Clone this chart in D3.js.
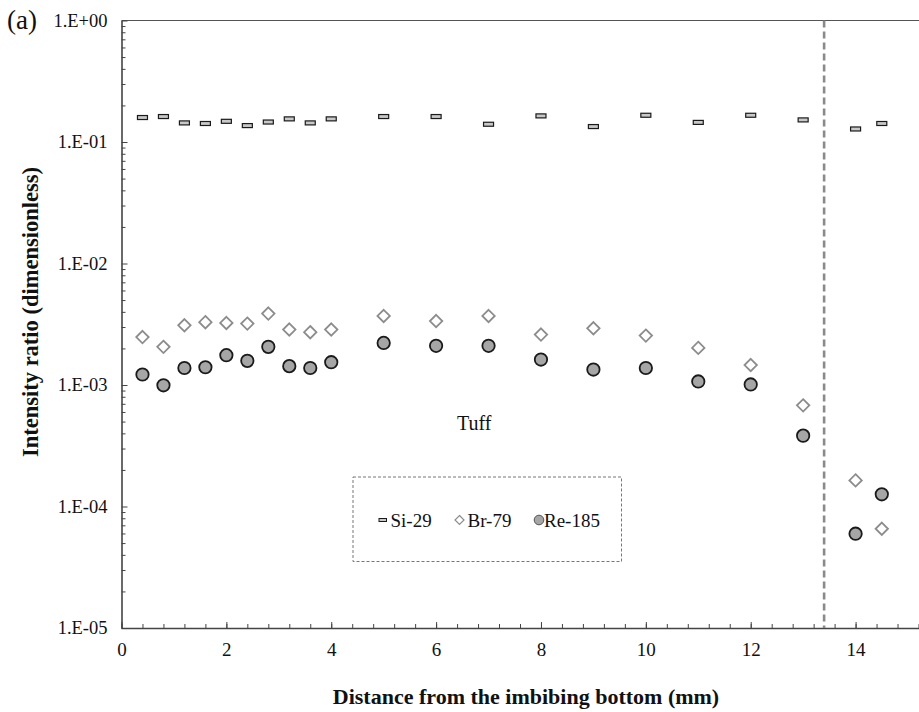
<!DOCTYPE html>
<html>
<head>
<meta charset="utf-8">
<script src="https://cdn.jsdelivr.net/npm/d3@7"></script>
<style>
  html, body { margin: 0; padding: 0; background: #fff; }
  svg { display: block; }
  svg text { font-family: "Liberation Serif", "Times New Roman", Times, serif; }
</style>
</head>
<body>
<svg id="chart" width="919" height="712"></svg>
<script>
// Sampling positions (mm from the imbibing bottom)
const distances = [0.4, 0.8, 1.2, 1.6, 2.0, 2.4, 2.8, 3.2, 3.6, 4.0, 5, 6, 7, 8, 9, 10, 11, 12, 13, 14, 14.5];

// Intensity ratios per isotope
const si29 = [0.159, 0.162, 0.1436, 0.142, 0.148, 0.1365, 0.146, 0.155, 0.1436, 0.155, 0.162, 0.162, 0.140, 0.164, 0.134, 0.166, 0.145, 0.166, 0.152, 0.128, 0.142];
const br79 = [0.00248, 0.00206, 0.00310, 0.00329, 0.00324, 0.00320, 0.00387, 0.00286, 0.00272, 0.00286, 0.00370, 0.00336, 0.00370, 0.00260, 0.00293, 0.00255, 0.00202, 0.00146, 0.000680, 0.000164, 0.0000656];
const re185 = [0.00122, 0.000994, 0.00138, 0.00140, 0.00176, 0.00158, 0.00206, 0.00143, 0.00138, 0.00154, 0.00222, 0.00210, 0.00210, 0.00162, 0.00134, 0.00138, 0.00107, 0.00101, 0.000383, 0.0000597, 0.000126];

// Axis ticks
const xMajorTicks = [0, 2, 4, 6, 8, 10, 12, 14];
const xMinorTicks = d3.range(0, 39).map(i => +(i * 0.4).toFixed(1));
const yMajorTicks = [1, 1e-1, 1e-2, 1e-3, 1e-4, 1e-5];
const yMinorTicks = [];
[-5, -4, -3, -2, -1].forEach(p => { for (let m = 2; m <= 9; m++) yMinorTicks.push(m * Math.pow(10, p)); });

const boundaryX = 13.4;   // tuff boundary
const seriesNames = ["Si-29", "Br-79", "Re-185"];

const svg = d3.select("#chart");
const plotLeft = 121.5, plotRight = 918.5, plotTop = 20.5, plotBottom = 628;

const x = d3.scaleLinear().domain([0, 15.2]).range([plotLeft, plotRight]);
const y = d3.scaleLog().domain([1e-5, 1]).range([plotBottom, plotTop]);

const fmtExp = v => {
  const p = Math.round(Math.log10(v));
  return "1.E" + (p < 0 ? "-" : "+") + String(Math.abs(p)).padStart(2, "0");
};
const serif = "Liberation Serif, Times New Roman, Times, serif";

// Top border of the plot area
svg.append("line")
  .attr("x1", plotLeft).attr("x2", 919).attr("y1", plotTop).attr("y2", plotTop)
  .attr("stroke", "#555").attr("stroke-width", 1.2);

// X axis: minor ticks, then major ticks with labels
const xMinor = svg.append("g").attr("transform", `translate(0,${plotBottom})`)
  .call(d3.axisBottom(x).tickValues(xMinorTicks).tickSize(-4).tickFormat(""));
xMinor.select(".domain").remove();
xMinor.selectAll("line").attr("stroke", "#444");

const xAxis = svg.append("g").attr("transform", `translate(0,${plotBottom})`)
  .call(d3.axisBottom(x).tickValues(xMajorTicks).tickSize(-6).tickPadding(15).tickSizeOuter(0));
xAxis.attr("font-family", serif).attr("font-size", 19);
xAxis.select(".domain").attr("stroke", "#444").attr("stroke-width", 1.6)
  .attr("d", `M${plotLeft},0.5H919`);
xAxis.selectAll("line").attr("stroke", "#444");
xAxis.selectAll("text").attr("fill", "#111");

// Y axis (log scale)
const yMinor = svg.append("g").attr("transform", `translate(${plotLeft},0)`)
  .call(d3.axisLeft(y).tickValues(yMinorTicks).tickSize(-4).tickFormat(""));
yMinor.select(".domain").remove();
yMinor.selectAll("line").attr("stroke", "#444");

const yAxis = svg.append("g").attr("transform", `translate(${plotLeft},0)`)
  .call(d3.axisLeft(y).tickValues(yMajorTicks).tickSize(-6).tickPadding(14).tickSizeOuter(0).tickFormat(fmtExp));
yAxis.attr("font-family", serif).attr("font-size", 18.5);
yAxis.select(".domain").attr("stroke", "#444").attr("stroke-width", 1.6);
yAxis.selectAll("line").attr("stroke", "#444");
yAxis.selectAll("text").attr("fill", "#111");

// Dashed boundary line
svg.append("line")
  .attr("x1", x(boundaryX)).attr("x2", x(boundaryX))
  .attr("y1", plotTop).attr("y2", plotBottom)
  .attr("stroke", "#8a8a8a").attr("stroke-width", 2.6)
  .attr("stroke-dasharray", "7,4");

// Si-29 markers (short dashes)
svg.append("g").selectAll("rect").data(distances).join("rect")
  .attr("x", (d) => x(d) - 5)
  .attr("y", (d, i) => y(si29[i]) - 2)
  .attr("width", 10).attr("height", 4)
  .attr("fill", "#c8c8c8").attr("stroke", "#1a1a1a").attr("stroke-width", 1.2);

// Br-79 markers (open diamonds)
const diamond = s => `M0,${-s}L${s},0L0,${s}L${-s},0Z`;
svg.append("g").selectAll("path").data(distances).join("path")
  .attr("transform", (d, i) => `translate(${x(d)},${y(br79[i])})`)
  .attr("d", diamond(6.2))
  .attr("fill", "#fff").attr("stroke", "#8c8c8c").attr("stroke-width", 1.8);

// Re-185 markers (filled circles)
svg.append("g").selectAll("circle").data(distances).join("circle")
  .attr("cx", d => x(d))
  .attr("cy", (d, i) => y(re185[i]))
  .attr("r", 6.2)
  .attr("fill", "#a6a6a6").attr("stroke", "#1a1a1a").attr("stroke-width", 1.8);

// Region label
svg.append("text").attr("x", 457).attr("y", 430).attr("font-family", serif)
  .attr("font-size", 20).attr("fill", "#111").text("Tuff");

// Legend
const lg = svg.append("g").attr("font-family", serif);
lg.append("rect").attr("x", 353).attr("y", 477).attr("width", 268.5).attr("height", 84.5)
  .attr("fill", "none").attr("stroke", "#777").attr("stroke-width", 1)
  .attr("stroke-dasharray", "3,2");
const ly = 520;
lg.append("rect").attr("x", 379).attr("y", ly - 1.5).attr("width", 7.5).attr("height", 3)
  .attr("fill", "#c8c8c8").attr("stroke", "#1a1a1a").attr("stroke-width", 1);
lg.append("text").attr("x", 390.5).attr("y", ly + 6.5).attr("font-size", 19).attr("fill", "#111").text(seriesNames[0]);
lg.append("path").attr("transform", `translate(459.5,${ly})`).attr("d", diamond(4.5))
  .attr("fill", "#fff").attr("stroke", "#8c8c8c").attr("stroke-width", 1.2);
lg.append("text").attr("x", 467.5).attr("y", ly + 6.5).attr("font-size", 19).attr("fill", "#111").text(seriesNames[1]);
lg.append("circle").attr("cx", 539).attr("cy", ly).attr("r", 4.8)
  .attr("fill", "#a6a6a6").attr("stroke", "#555").attr("stroke-width", 1);
lg.append("text").attr("x", 544).attr("y", ly + 6.5).attr("font-size", 19).attr("fill", "#111").text(seriesNames[2]);

// Axis titles
svg.append("text")
  .attr("x", 526).attr("y", 704).attr("font-family", serif)
  .attr("text-anchor", "middle").attr("font-size", 22).attr("font-weight", "bold").attr("fill", "#111")
  .text("Distance from the imbibing bottom (mm)");

svg.append("text")
  .attr("transform", "translate(38,312) rotate(-90)").attr("font-family", serif)
  .attr("text-anchor", "middle").attr("font-size", 22.5).attr("font-weight", "bold").attr("fill", "#111")
  .text("Intensity ratio (dimensionless)");

// Panel label
svg.append("text").attr("x", 7).attr("y", 29).attr("font-family", serif)
  .attr("font-size", 27).attr("fill", "#111").text("(a)");
</script>
</body>
</html>
